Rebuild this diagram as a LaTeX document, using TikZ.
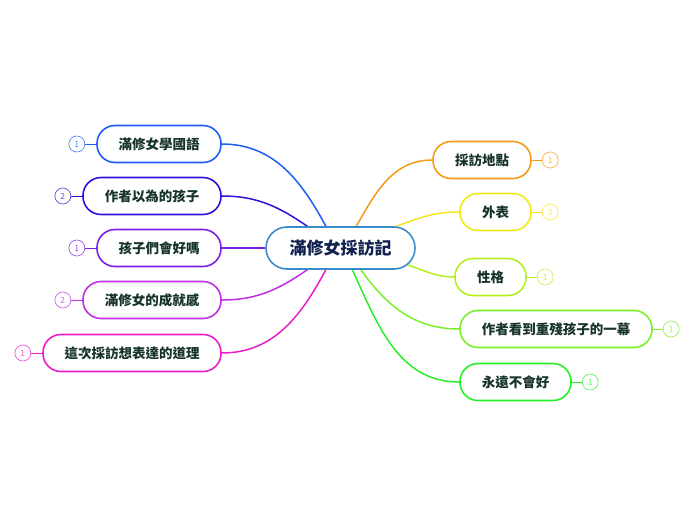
\documentclass[tikz,border=0pt]{standalone}
\usepackage{fontspec}
\setmainfont{Noto Sans CJK TC}
\usetikzlibrary{calc,positioning,backgrounds}
\definecolor{hubblue}{RGB}{58,140,200}
\definecolor{hubtext}{RGB}{16,32,80}
\definecolor{txtc}{RGB}{22,52,42}
\definecolor{cblue}{RGB}{30,94,245}
\definecolor{cdblue}{RGB}{42,18,216}
\definecolor{cpurple}{RGB}{122,34,232}
\definecolor{cviolet}{RGB}{192,46,232}
\definecolor{cmagenta}{RGB}{234,30,200}
\definecolor{corange}{RGB}{245,154,26}
\definecolor{cyellow}{RGB}{245,229,30}
\definecolor{cyg}{RGB}{180,240,30}
\definecolor{clgreen}{RGB}{120,240,42}
\definecolor{cgreen}{RGB}{40,240,40}

\tikzset{
  topic/.style={draw=#1, line width=1.6pt, rounded corners=18pt, minimum height=37pt,
    fill=white, text=txtc, inner sep=0pt, font=\bfseries\fontsize{13.5}{15}\selectfont},
  badge/.style={draw=#1!75, circle, line width=0.7pt, minimum size=16pt, inner sep=0pt,
    fill=white, text=#1!75, font=\fontsize{8.5}{9}\selectfont},
  branch/.style={draw=#1, line width=1.5pt},
  tick/.style={draw=#1, line width=1pt}
}

\begin{document}
\begin{tikzpicture}[x=1pt,y=1pt]
  \useasboundingbox (0,0) rectangle (696,-520);

  % central topic
  \node[draw=hubblue, fill=white, line width=1.6pt, rounded corners=21pt, minimum width=149pt,
    minimum height=42pt, inner sep=0pt, text=hubtext, font=\bfseries\fontsize{17}{19}\selectfont]
    (hub) at (340.5,-248) {滿修女採訪記};

  % left topics
  \node[topic=cblue, minimum width=124pt] (l1) at (159,-144) {滿修女學國語};
  \node[topic=cdblue, minimum width=138pt] (l2) at (152,-196) {作者以為的孩子};
  \node[topic=cpurple, minimum width=124pt] (l3) at (159,-248) {孩子們會好嗎};
  \node[topic=cviolet, minimum width=138pt] (l4) at (152,-300) {滿修女的成就感};
  \node[topic=cmagenta, minimum width=178pt] (l5) at (132,-353) {這次採訪想表達的道理};

  % right topics
  \node[topic=corange, minimum width=98pt] (r1) at (482,-160) {採訪地點};
  \node[topic=cyellow, minimum width=71pt] (r2) at (495.5,-212) {外表};
  \node[topic=cyg, minimum width=71pt] (r3) at (490.5,-277) {性格};
  \node[topic=clgreen, minimum width=192pt] (r4) at (556,-329) {作者看到重殘孩子的一幕};
  \node[topic=cgreen, minimum width=111pt] (r5) at (515.5,-382) {永遠不會好};

  % count badges
  \node[badge=cblue, left=11pt of l1] (bl1) {1};
  \node[badge=cdblue, left=11pt of l2] (bl2) {2};
  \node[badge=cpurple, left=11pt of l3] (bl3) {1};
  \node[badge=cviolet, left=11pt of l4] (bl4) {2};
  \node[badge=cmagenta, left=11pt of l5] (bl5) {1};
  \node[badge=corange, right=10pt of r1] (br1) {1};
  \node[badge=cyellow, right=10pt of r2] (br2) {3};
  \node[badge=cyg, right=10pt of r3] (br3) {1};
  \node[badge=clgreen, right=10pt of r4] (br4) {1};
  \node[badge=cgreen, right=10pt of r5] (br5) {1};

  \begin{pgfonlayer}{background}
    % branches
    \draw[branch=cblue] ($(hub.north)+(-12.5,-4)$) to[out=118, in=0] (l1.east);
    \draw[branch=cdblue] ($(hub.north)+(-27.5,-4)$) to[out=145, in=0] (l2.east);
    \draw[branch=cpurple] (hub.west) -- (l3.east);
    \draw[branch=cviolet] ($(hub.south)+(-27.5,4)$) to[out=-145, in=0] (l4.east);
    \draw[branch=cmagenta] ($(hub.south)+(-12.5,4)$) to[out=-118, in=0] (l5.east);
    \draw[branch=corange] ($(hub.north)+(13.5,-4)$) to[out=60, in=180] (r1.west);
    \draw[branch=cyellow] ($(hub.north)+(45.5,-4)$) to[out=20, in=180] (r2.west);
    \draw[branch=cyg] ($(hub.center)+(55,-14)$) to[out=-10, in=180] (r3.west);
    \draw[branch=clgreen] ($(hub.south)+(17.5,4)$) to[out=-55, in=180] (r4.west);
    \draw[branch=cgreen] ($(hub.south)+(10,4)$) to[out=-65, in=180] (r5.west);
    % badge ticks
    \foreach \t/\c in {l1/cblue,l2/cdblue,l3/cpurple,l4/cviolet,l5/cmagenta,
                       r1/corange,r2/cyellow,r3/cyg,r4/clgreen,r5/cgreen}
      \draw[tick=\c] (\t) -- (b\t);
  \end{pgfonlayer}
\end{tikzpicture}
\end{document}
